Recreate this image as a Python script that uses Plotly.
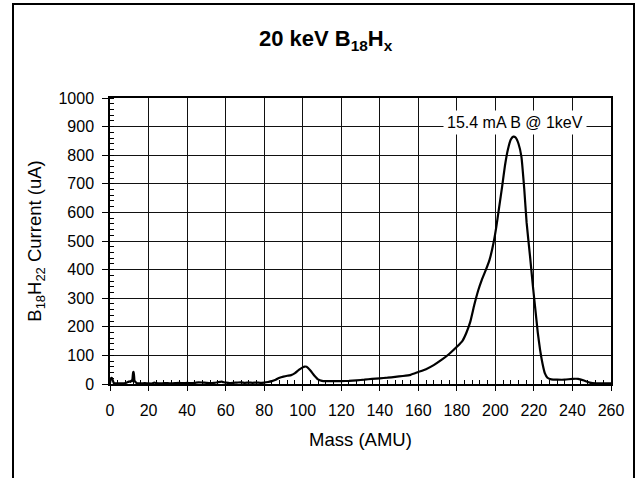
import plotly.graph_objects as go

mass = [0, 0.5, 1, 1.5, 2, 3, 4, 6, 8, 9, 10, 10.5, 11, 11.5, 12, 12.3, 12.7, 13, 14, 16, 18,
        20, 22, 23, 24, 26, 28, 30, 32, 34, 36, 38, 40, 42, 44, 46, 48, 50, 52, 54, 56, 58,
        59, 60, 62, 64, 66, 68, 70, 72, 74, 76, 78, 80,
        82, 84, 86, 88, 90, 92, 94, 96, 98, 100, 101, 102, 104, 106, 108, 110, 112, 116,
        120, 124, 128, 132, 136, 140, 144, 148, 152, 156, 160, 164, 168, 172, 176, 180,
        183, 185, 187, 189, 191, 193, 195, 197, 199, 200.5, 202, 203.5, 205, 206.5, 208,
        209.3, 210.5, 212, 213.5, 215, 216.2, 218, 219.5, 220.6, 222, 223.2, 224.5, 225.7,
        227, 229, 232, 236, 240, 243, 246, 249, 252, 256, 260]
current = [3, 20, 21, 12, 3, 2, 2, 2, 3, 6, 9, 7, 11, 10, 40, 42, 12, 9, 3, 2, 3,
           2, 2, 5, 3, 2, 3, 3, 2, 3, 4, 3, 4, 3, 4, 6, 5, 4, 3, 4, 6, 8,
           6, 5, 3, 4, 5, 6, 4, 5, 4, 5, 4, 5,
           7, 10, 15, 22, 26, 29, 31, 38, 49, 58, 61, 60, 47, 30, 16, 11, 10, 10,
           10, 11, 13, 15, 18, 20, 22, 25, 28, 32, 42, 52, 66, 84, 105, 130,
           152, 180, 218, 275, 325, 365, 398, 435, 492, 550, 620, 690, 765, 820, 855,
           865, 862, 840, 795, 680, 565, 445, 340, 270, 180, 119, 70, 37,
           22, 16, 15, 15, 18, 18, 12, 5, 2, 2, 2]

x_ticks = list(range(0, 261, 20))
y_ticks = list(range(0, 1001, 100))

title_text = "<b>20 keV B<sub>18</sub>H<sub>x</sub></b>"
x_title = "Mass (AMU)"
y_title = "B<sub>18</sub>H<sub>22</sub> Current (uA)"
note_text = "15.4 mA B @ 1keV"
note_x, note_y = 210, 915

FONT = "Arial, 'Liberation Sans', sans-serif"

fig = go.Figure()
fig.add_trace(go.Scatter(x=mass, y=current, mode="lines",
                         line=dict(color="black", width=2.2, shape="spline", smoothing=0.4),
                         hoverinfo="skip", showlegend=False))

fig.update_layout(
    width=636, height=478,
    margin=dict(l=110, r=25, t=98, b=94),
    paper_bgcolor="white", plot_bgcolor="white",
    font=dict(family=FONT, color="black", size=16),
    title=dict(text=title_text, x=0.512, xanchor="center", y=0.92, yanchor="middle",
               font=dict(size=22, family=FONT, color="black")),
    showlegend=False,
)

fig.update_xaxes(
    range=[0, 260], tickvals=x_ticks, ticktext=[str(v) for v in x_ticks],
    showgrid=True, gridcolor="#111", gridwidth=1,
    showline=True, linecolor="black", linewidth=1.5, mirror=True,
    ticks="outside", ticklen=5, tickcolor="black", tickwidth=1,
    minor=dict(ticks="inside", dtick=4, ticklen=4, tickcolor="black", showgrid=False),
    tickfont=dict(size=16), zeroline=False, ticklabelstandoff=6,
    title=dict(text=x_title, font=dict(size=18.5), standoff=15),
)
fig.update_yaxes(
    range=[0, 1000], tickvals=y_ticks, ticktext=[str(v) for v in y_ticks],
    showgrid=True, gridcolor="#111", gridwidth=1,
    showline=True, linecolor="black", linewidth=1.5, mirror=True,
    ticks="outside", ticklen=6, tickcolor="black", tickwidth=1,
    minor=dict(ticks="inside", dtick=20, ticklen=4, tickcolor="black", showgrid=False),
    tickfont=dict(size=16), zeroline=False, ticklabelstandoff=5,
    title=dict(text=y_title, font=dict(size=18.5), standoff=12),
)

fig.add_annotation(x=note_x, y=note_y, xref="x", yref="y", text=note_text,
                   showarrow=False, bgcolor="white", font=dict(size=16, family=FONT),
                   borderpad=3)

# outer chart frame
fig.add_shape(type="rect", xref="paper", yref="paper",
              x0=(13 - 110) / 501, x1=(634 - 110) / 501,
              y0=(384 - 490) / 286, y1=(384 - 4) / 286,
              line=dict(color="black", width=2), fillcolor="rgba(0,0,0,0)", layer="above")

fig.write_html("out.html")
